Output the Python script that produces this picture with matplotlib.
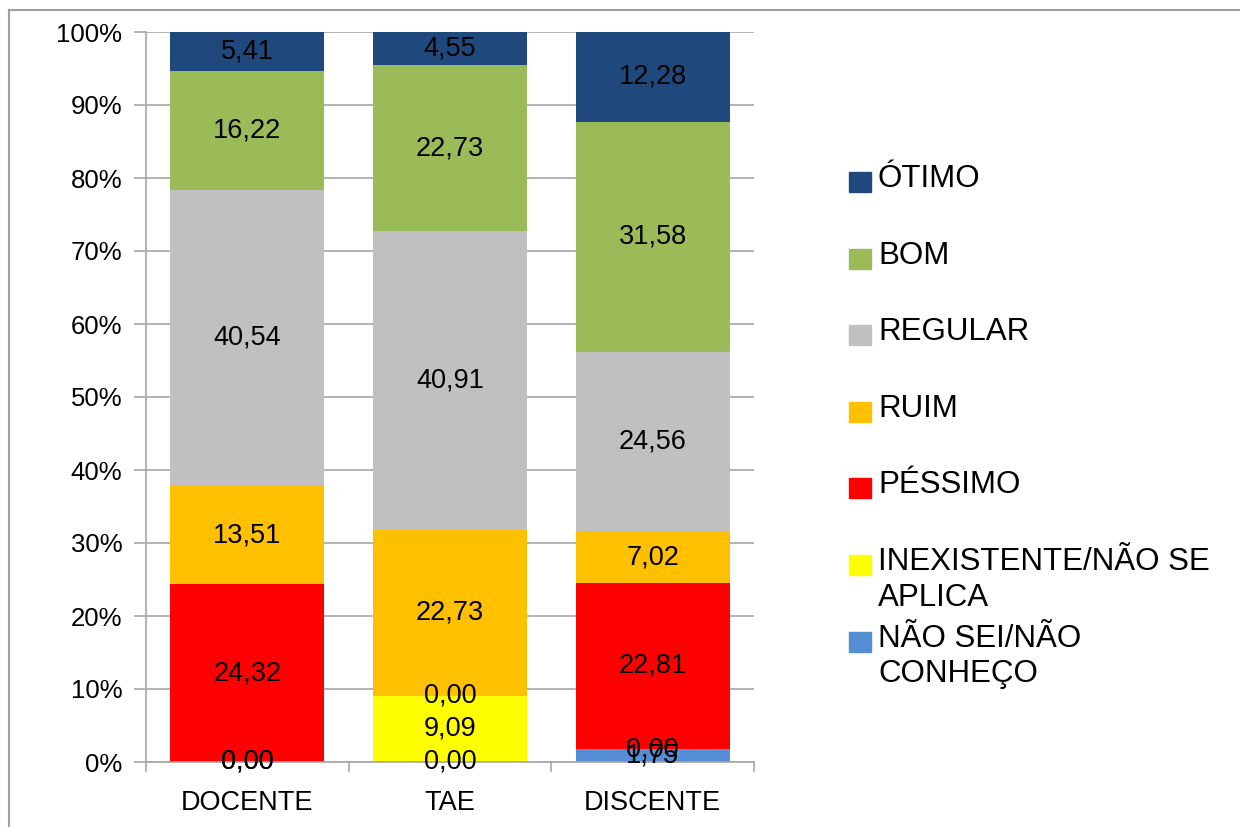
import matplotlib
matplotlib.use("Agg")
import matplotlib.pyplot as plt
from matplotlib.lines import Line2D
from matplotlib.patches import Rectangle
from matplotlib.ticker import FuncFormatter

plt.rcParams['font.family'] = ['Liberation Sans', 'DejaVu Sans']

categories = ["DOCENTE", "TAE", "DISCENTE"]

# Series listed bottom to top of the stack
series_names = [
    "NÃO SEI/NÃO\nCONHEÇO",
    "INEXISTENTE/NÃO SE\nAPLICA",
    "PÉSSIMO",
    "RUIM",
    "REGULAR",
    "BOM",
    "ÓTIMO",
]
nao_sei = [0.00, 0.00, 1.75]
inexistente = [0.00, 9.09, 0.00]
pessimo = [24.32, 0.00, 22.81]
ruim = [13.51, 22.73, 7.02]
regular = [40.54, 40.91, 24.56]
bom = [16.22, 22.73, 31.58]
otimo = [5.41, 4.55, 12.28]

series_values = [nao_sei, inexistente, pessimo, ruim, regular, bom, otimo]
series_colors = ["#558ED5", "#FFFF00", "#FF0000", "#FFC000", "#C0C0C0", "#9BBB59", "#1F497D"]

W, H = 1240, 827
fig = plt.figure(figsize=(W / 100, H / 100), dpi=100)
ax = fig.add_axes([146 / W, 1 - 762 / H, (754 - 146) / W, (762 - 32) / H])

x = list(range(len(categories)))
bottoms = [0.0] * len(categories)
LABEL_FS = 19.5
TICK_FS = 18.5
CAT_FS = 19.5
LEG_FS = 22.5
for name, vals, col in zip(series_names, series_values, series_colors):
    totals = [sum(v[i] for v in series_values) for i in x]
    pct = [vals[i] / totals[i] * 100 for i in x]
    ax.bar(x, pct, bottom=bottoms, width=0.76, color=col, zorder=2)
    for i in x:
        yc = bottoms[i] + pct[i] / 2
        ax.text(i, yc, f"{vals[i]:.2f}".replace(".", ","), ha="center", va="center",
                fontsize=LABEL_FS, color="black", zorder=4)
    bottoms = [bottoms[i] + pct[i] for i in x]

ax.set_xlim(-0.5, 2.5)
ax.set_ylim(0, 100)
ax.set_yticks(range(0, 101, 10))
ax.yaxis.set_major_formatter(FuncFormatter(lambda v, p: f"{int(v)}%"))
ax.grid(axis="y", color="#A6A6A6", linewidth=1.2, zorder=0)
ax.set_axisbelow(True)

for s in ["top", "right"]:
    ax.spines[s].set_visible(False)
for s in ["left", "bottom"]:
    ax.spines[s].set_color("#A6A6A6")
    ax.spines[s].set_linewidth(1.2)

ax.tick_params(axis="y", length=9, width=1.2, color="#A6A6A6", labelsize=TICK_FS, pad=8)
ax.set_xticks(x)
ax.set_xticklabels(categories, fontsize=CAT_FS)
ax.tick_params(axis="x", length=0, pad=20)
# category separator ticks on the x axis
for b in [-0.5, 0.5, 1.5, 2.5]:
    ax.plot([b, b], [0, -1.2], color="#A6A6A6", linewidth=1.2, clip_on=False, zorder=1)

# legend, top entry first
y0 = 182
step = 76.6
for k, (name, col) in enumerate(zip(series_names[::-1], series_colors[::-1])):
    yc = y0 + k * step
    fig.patches.append(Rectangle((849 / W, 1 - (yc + 10) / H), 22 / W, 20 / H,
                                 transform=fig.transFigure, color=col))
    fig.text(878 / W, 1 - (yc - 18) / H, name, fontsize=LEG_FS, va="top", ha="left",
             linespacing=1.24)

# chart frame
fig.add_artist(Line2D([9 / W, 1], [1 - 10 / H, 1 - 10 / H], color="#A0A0A0", linewidth=1.5))
fig.add_artist(Line2D([9 / W, 9 / W], [0, 1 - 10 / H], color="#A0A0A0", linewidth=1.5))

fig.savefig("out.png", dpi=100)
